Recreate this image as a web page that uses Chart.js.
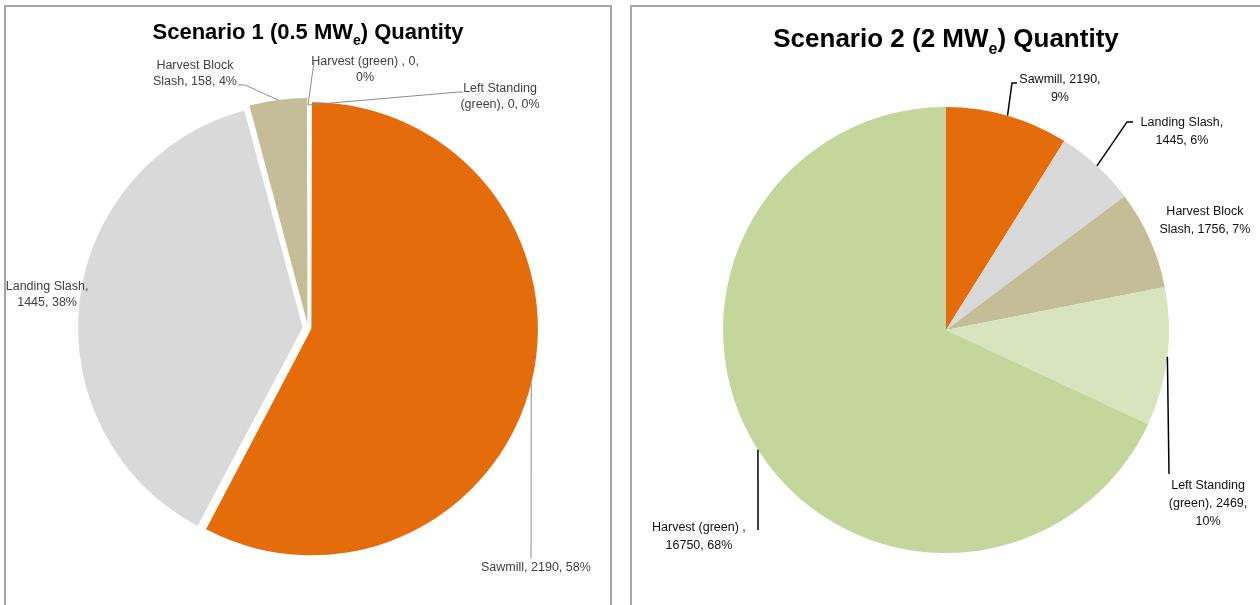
<!DOCTYPE html>
<html>
<head>
<meta charset="utf-8">
<script src="https://cdn.jsdelivr.net/npm/chart.js@4.4.1/dist/chart.umd.min.js"></script>
<style>
  body { margin: 0; background: #fff; width: 1260px; height: 605px; overflow: hidden; position: relative; }
  .box { position: absolute; border: 2px solid #a6a6a6; background: #fff; }
  canvas { position: absolute; }
</style>
</head>
<body>
<div class="box" style="left:4px;top:5px;width:604px;height:640px;"></div>
<div class="box" style="left:630px;top:5px;width:700px;height:640px;"></div>
<canvas id="scenario1" width="604" height="598" style="left:6px;top:7px;"></canvas>
<canvas id="scenario2" width="628" height="598" style="left:632px;top:7px;"></canvas>
<script>
// scenario 1 (0.5 MWe)
const categories1 = ["Sawmill", "Landing Slash", "Harvest Block Slash", "Harvest (green) ", "Left Standing (green)"];
const values1 = [2190, 1445, 158, 0, 0];
const title1 = ["Scenario 1 (0.5 MW", "e", ") Quantity"];

// scenario 2 (2 MWe)
const categories2 = ["Sawmill", "Landing Slash", "Harvest Block Slash", "Left Standing (green)", "Harvest (green) "];
const values2 = [2190, 1445, 1756, 2469, 16750];
const title2 = ["Scenario 2 (2 MW", "e", ") Quantity"];

const colorOf = {
    "Sawmill": "#E46C0A",
    "Landing Slash": "#D9D9D9",
    "Harvest Block Slash": "#C4BD97",
    "Left Standing (green)": "#D7E4BD",
    "Harvest (green) ": "#C3D69B",
};

// label spots in pie-radius units from the centre, leaders start on the slice at fraction `at`
const spots1 = [
    { x: 1.022, y: 1.072, wrap: 140, at: 0.5, leader: [[1.0, 1.031]] },
    { x: -1.170, y: -0.148, wrap: 95 },
    { x: -0.507, y: -1.139, wrap: 90, at: 0.5, leader: [[-0.283, -1.090], [-0.314, -1.090]] },
    { x: 0.256, y: -1.161, wrap: 120, at: 0, leader: [[0.027, -1.193]] },
    { x: 0.861, y: -1.040, wrap: 90, at: 0, leader: [[0.673, -1.058], [0.695, -1.058]] },
];
const spots2 = [
    { x: 0.511, y: -1.083, wrap: 92, at: 0.5, leader: [[0.296, -1.108], [0.318, -1.108]] },
    { x: 1.058, y: -0.892, wrap: 95, at: 0.5, leader: [[0.812, -0.933], [0.839, -0.933]] },
    { x: 1.161, y: -0.489, wrap: 102 },
    { x: 1.175, y: 0.776, wrap: 90, at: 0.5, leader: [[1.0, 0.646]] },
    { x: -1.108, y: 0.924, wrap: 112, at: 0.5, leader: [[-0.843, 0.897]] },
];

function explodeShift(arc) {
    const circ = arc.endAngle - arc.startAngle;
    if (!circ) return { dx: 0, dy: 0 };
    const off = (arc.options.offset || 0) / 4;
    const d = off + off * (1 - Math.sin(Math.min(Math.PI, circ)));
    const half = (arc.startAngle + arc.endAngle) / 2;
    return { dx: Math.cos(half) * d, dy: Math.sin(half) * d };
}

// offset that moves a slice out by px pixels (chart.js scales offset by slice size)
function offsetFor(values, px) {
    const total = values.reduce((a, b) => a + b, 0);
    return values.map(v => {
        const circ = v / total * Math.PI * 2;
        if (!circ) return 0;
        return px * 4 / (2 - Math.sin(Math.min(Math.PI, circ)));
    });
}

function wrapText(ctx, text, width) {
    const words = text.split(" ");
    const lines = [];
    let line = "";
    words.forEach(w => {
        const test = line ? line + " " + w : w;
        if (line && ctx.measureText(test).width > width) {
            lines.push(line);
            line = w;
        } else {
            line = test;
        }
    });
    if (line) lines.push(line);
    return lines;
}

const pieLabels = {
    id: "pieLabels",
    afterDatasetsDraw(chart, args, opts) {
        const ctx = chart.ctx;
        const meta = chart.getDatasetMeta(0);
        const values = chart.data.datasets[0].data;
        const total = values.reduce((a, b) => a + b, 0);
        ctx.save();
        ctx.font = opts.font;
        ctx.textAlign = "center";
        ctx.textBaseline = "middle";
        meta.data.forEach((arc, i) => {
            const spot = opts.spots[i];
            const R = arc.outerRadius;
            const cx = arc.x, cy = arc.y;
            if (spot.leader) {
                const s = explodeShift(arc);
                const a = arc.startAngle + (arc.endAngle - arc.startAngle) * spot.at;
                ctx.beginPath();
                ctx.moveTo(cx + s.dx + Math.cos(a) * R, cy + s.dy + Math.sin(a) * R);
                spot.leader.forEach(p => ctx.lineTo(cx + p[0] * R, cy + p[1] * R));
                ctx.strokeStyle = opts.lineColor;
                ctx.lineWidth = opts.lineWidth;
                ctx.stroke();
            }
            const pct = Math.round(values[i] / total * 100);
            const text = `${chart.data.labels[i]}, ${values[i]}, ${pct}%`;
            const lines = wrapText(ctx, text, spot.wrap);
            const tx = cx + spot.x * R;
            const ty = cy + spot.y * R - (lines.length - 1) * opts.lineHeight / 2;
            ctx.fillStyle = opts.color;
            lines.forEach((l, k) => ctx.fillText(l, tx, ty + k * opts.lineHeight));
        });
        ctx.restore();
    },
};

const subTitle = {
    id: "subTitle",
    afterDraw(chart, args, opts) {
        const ctx = chart.ctx;
        const [a, sub, b] = opts.parts;
        ctx.save();
        const big = `bold ${opts.size}px "Liberation Sans", Arial, sans-serif`;
        const small = `bold ${Math.round(opts.size * 0.62)}px "Liberation Sans", Arial, sans-serif`;
        ctx.font = big;
        const wa = ctx.measureText(a).width, wb = ctx.measureText(b).width;
        ctx.font = small;
        const ws = ctx.measureText(sub).width;
        let x = opts.x - (wa + ws + wb) / 2;
        ctx.fillStyle = "#000";
        ctx.textBaseline = "middle";
        ctx.textAlign = "left";
        ctx.font = big;
        ctx.fillText(a, x, opts.y);
        x += wa;
        ctx.font = small;
        ctx.fillText(sub, x, opts.y + opts.size * 0.35);
        x += ws;
        ctx.font = big;
        ctx.fillText(b, x, opts.y);
        ctx.restore();
    },
};

function makePie(id, categories, values, opt) {
    const ctx = document.getElementById(id).getContext("2d");
    return new Chart(ctx, {
        type: "pie",
        data: {
            labels: categories,
            datasets: [{
                data: values,
                backgroundColor: categories.map(c => colorOf[c]),
                borderWidth: 0,
                offset: opt.offsets,
            }],
        },
        options: {
            responsive: false,
            animation: false,
            radius: 223,
            layout: { padding: opt.padding },
            events: [],
            plugins: {
                legend: { display: false },
                tooltip: { enabled: false },
                pieLabels: opt.labels,
                subTitle: opt.title,
            },
        },
        plugins: [pieLabels, subTitle],
    });
}

makePie("scenario1", categories1, values1, {
    offsets: offsetFor(values1, 7),
    padding: { left: 0, right: 0, top: 44, bottom: 0 },
    title: { parts: title1, size: 22, x: 302, y: 26 },
    labels: {
        spots: spots1,
        font: '12.5px "Liberation Sans", Arial, sans-serif',
        color: "#404040",
        lineColor: "#8c8c8c",
        lineWidth: 1,
        lineHeight: 16,
    },
});

makePie("scenario2", categories2, values2, {
    offsets: values2.map(() => 0),
    padding: { left: 0, right: 0, top: 48, bottom: 0 },
    title: { parts: title2, size: 26, x: 314, y: 33 },
    labels: {
        spots: spots2,
        font: '12.5px "Liberation Sans", Arial, sans-serif',
        color: "#111",
        lineColor: "#000",
        lineWidth: 1.5,
        lineHeight: 18,
    },
});
</script>
</body>
</html>
